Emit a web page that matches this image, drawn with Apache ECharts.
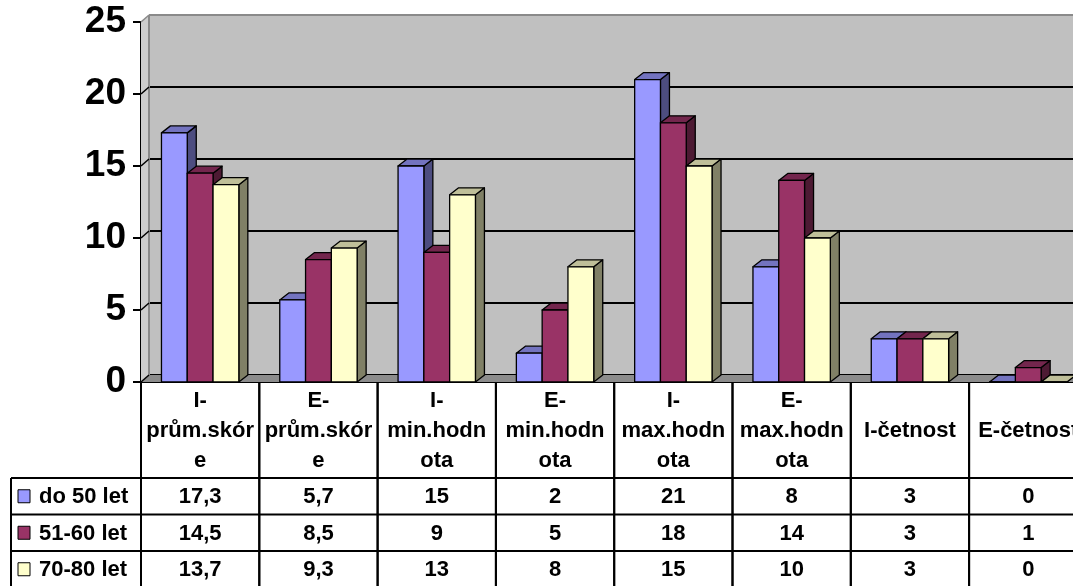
<!DOCTYPE html>
<html>
<head>
<meta charset="utf-8">
<script src="https://cdn.jsdelivr.net/npm/echarts@6/dist/echarts.min.js"></script>
<style>
  html, body { margin: 0; padding: 0; background: #ffffff; }
  #chart { width: 1073px; height: 586px; }
</style>
</head>
<body>
<div id="chart"></div>
<script>
// Category headings as they wrap in the data table
const categories = [
  'I-\nprům.skór\ne', 'E-\nprům.skór\ne', 'I-\nmin.hodn\nota', 'E-\nmin.hodn\nota',
  'I-\nmax.hodn\nota', 'E-\nmax.hodn\nota', 'I-četnost', 'E-četnost'
];
const seriesNames = ['do 50 let', '51-60 let', '70-80 let'];
const under50 = [17.3, 5.7, 15, 2, 21, 8, 3, 0];
const age51to60 = [14.5, 8.5, 9, 5, 18, 14, 3, 1];
const age70to80 = [13.7, 9.3, 13, 8, 15, 10, 3, 0];
const yTicks = [0, 5, 10, 15, 20, 25];

const seriesValues = [under50, age51to60, age70to80];

// Face colours of the 3D columns: front, top, side
const frontColors = ['#9999FF', '#993366', '#FFFFCC'];
const topColors = ['#7373BF', '#73264D', '#BFBF99'];
const sideColors = ['#4D4D80', '#4D1A33', '#808066'];

// Depth of the 3D projection
const DX = 9, DY = 7;      // column depth
const WX = 8, WY = 7;      // wall depth
const HEADER_H = 96, ROW_H = 36.5, LEGEND_W = 130;
const PLOT_W = 946.4;      // plot runs past the right edge of the canvas
const FONT = 'Arial, "Liberation Sans", sans-serif';
const TABLE_FONT = 22;

const fmt = v => String(v).replace('.', ',');

function columnRenderer(s) {
  return function (params, api) {
    const cat = api.value(0), v = api.value(1);
    const top = api.coord([cat, v]);
    const base = api.coord([cat, 0]);
    const band = api.size([1, 0])[0];
    const bw = band * 0.218;
    const x = top[0] - 1.5 * bw + s * bw;
    const y = top[1], yb = base[1];
    const edge = { stroke: '#000', lineWidth: 1.3, lineJoin: 'round' };
    return {
      type: 'group',
      children: [
        { type: 'polygon', shape: { points: [[x + bw, y], [x + bw + DX, y - DY], [x + bw + DX, yb - DY], [x + bw, yb]] },
          style: Object.assign({ fill: sideColors[s] }, edge) },
        { type: 'polygon', shape: { points: [[x, y], [x + DX, y - DY], [x + bw + DX, y - DY], [x + bw, y]] },
          style: Object.assign({ fill: topColors[s] }, edge) },
        { type: 'rect', shape: { x: x, y: y, width: bw, height: yb - y },
          style: Object.assign({ fill: frontColors[s] }, edge) }
      ]
    };
  };
}

// Side wall, floor and wall edges
function wallsRenderer(params, api) {
  const band = api.size([1, 0])[0];
  const first = api.coord([0, 0]);
  const last = api.coord([categories.length - 1, 0]);
  const L = first[0] - band / 2, R = last[0] + band / 2 + 40;
  const y0 = first[1];
  const yTop = api.coord([0, yTicks[yTicks.length - 1]])[1];
  const children = [
    { type: 'polygon', shape: { points: [[L, y0], [L + WX, y0 - WY], [L + WX, yTop - WY], [L, yTop]] },
      style: { fill: '#cdcdcd' } },
    { type: 'polygon', shape: { points: [[L, y0], [L + WX, y0 - WY], [R + WX, y0 - WY], [R, y0]] },
      style: { fill: '#8c8c8c' } },
    { type: 'line', shape: { x1: L + WX, y1: yTop - WY, x2: L + WX, y2: y0 - WY }, style: { stroke: '#8a8a8a', lineWidth: 2 } },
    { type: 'line', shape: { x1: L + WX, y1: yTop - WY, x2: R + WX, y2: yTop - WY }, style: { stroke: '#8a8a8a', lineWidth: 2 } },
    { type: 'line', shape: { x1: L, y1: yTop, x2: L + WX, y2: yTop - WY }, style: { stroke: '#8a8a8a', lineWidth: 1.5 } }
  ];
  yTicks.slice(0, -1).forEach(t => {
    const y = api.coord([0, t])[1];
    children.push({ type: 'line', shape: { x1: L, y1: y, x2: L + WX, y2: y - WY }, style: { stroke: '#000', lineWidth: 1.5 } });
  });
  return { type: 'group', children: children };
}

// Data table under the plot, one column per category
function tableRenderer(params, api) {
  const i = api.value(0);
  const c = api.coord([i, 0]);
  const band = api.size([1, 0])[0];
  const L = c[0] - band / 2, R = c[0] + band / 2, T = c[1];
  const rows = [T + HEADER_H, T + HEADER_H + ROW_H, T + HEADER_H + 2 * ROW_H];
  const bottom = T + HEADER_H + 3 * ROW_H + 4;
  const line = { stroke: '#000', lineWidth: 2 };
  const children = [
    { type: 'line', shape: { x1: L, y1: T, x2: L, y2: bottom }, style: line },
    { type: 'line', shape: { x1: R, y1: T, x2: R, y2: bottom }, style: line },
    { type: 'text', style: { text: categories[i], x: c[0], y: T + HEADER_H / 2 + 1, align: 'center', verticalAlign: 'middle',
        fontSize: TABLE_FONT, fontWeight: 'bold', fontFamily: FONT, lineHeight: 30, fill: '#000' } }
  ];
  rows.forEach((ry, r) => {
    children.push({ type: 'line', shape: { x1: L, y1: ry, x2: R, y2: ry }, style: line });
    children.push({ type: 'text', style: { text: fmt(seriesValues[r][i]), x: c[0], y: ry + ROW_H / 2 + 1,
      align: 'center', verticalAlign: 'middle', fontSize: TABLE_FONT, fontWeight: 'bold', fontFamily: FONT, fill: '#000' } });
  });
  if (i === 0) {
    const lx = L - LEGEND_W;
    children.push({ type: 'line', shape: { x1: lx, y1: rows[0], x2: lx, y2: bottom }, style: line });
    rows.forEach((ry, r) => {
      children.push({ type: 'line', shape: { x1: lx, y1: ry, x2: L, y2: ry }, style: line });
      const my = ry + ROW_H / 2;
      children.push({ type: 'rect', shape: { x: lx + 7, y: my - 6.5, width: 12, height: 13 },
        style: { fill: frontColors[r], stroke: '#000', lineWidth: 1 } });
      children.push({ type: 'text', style: { text: seriesNames[r], x: lx + 28, y: my + 1, align: 'left', verticalAlign: 'middle',
        fontSize: TABLE_FONT, fontWeight: 'bold', fontFamily: FONT, fill: '#000' } });
    });
  }
  return { type: 'group', children: children };
}

const chart = echarts.init(document.getElementById('chart'), null, { renderer: 'canvas' });

const option = {
  animation: false,
  backgroundColor: '#ffffff',
  grid: [
    { left: 141, width: PLOT_W, top: 22, bottom: 204, containLabel: false, outerBoundsMode: 'none' },
    // back wall, shifted by the wall depth
    { left: 141 + WX, width: PLOT_W + 40, top: 22 - WY, bottom: 204 + WY, show: true, backgroundColor: '#c0c0c0',
      borderWidth: 0, outerBoundsMode: 'none' }
  ],
  xAxis: [
    { type: 'category', gridIndex: 0, data: categories, boundaryGap: true,
      axisLine: { show: true, lineStyle: { color: '#000', width: 2 } },
      axisTick: { show: false }, axisLabel: { show: false }, splitLine: { show: false } },
    { type: 'value', gridIndex: 1, show: false }
  ],
  yAxis: [
    { type: 'value', gridIndex: 0, min: 0, max: 25, interval: 5,
      axisLine: { show: true, lineStyle: { color: '#000', width: 2 } },
      axisTick: { show: true, inside: false, length: 8, lineStyle: { color: '#000', width: 2 } },
      axisLabel: { margin: 15, fontSize: 37, fontWeight: 'bold', fontFamily: FONT, color: '#000' },
      splitLine: { show: false } },
    { type: 'value', gridIndex: 1, min: 0, max: 25, interval: 5,
      axisLine: { show: false }, axisTick: { show: false }, axisLabel: { show: false },
      splitLine: { show: true, lineStyle: { color: '#000', width: 2 } } }
  ],
  series: [
    { type: 'custom', name: 'walls', xAxisIndex: 0, yAxisIndex: 0, z: 1, silent: true,
      renderItem: wallsRenderer, data: [[0, 0]], encode: { x: 0, y: 1 } },
    ...seriesNames.map((name, s) => ({
      type: 'custom', name: name, xAxisIndex: 0, yAxisIndex: 0, z: 3,
      renderItem: columnRenderer(s),
      data: seriesValues[s].map((v, i) => [i, v]),
      encode: { x: 0, y: 1 }
    })),
    { type: 'custom', name: 'table', xAxisIndex: 0, yAxisIndex: 0, z: 4, silent: true,
      renderItem: tableRenderer, data: categories.map((c, i) => [i, 0]), encode: { x: 0, y: 1 } }
  ]
};

chart.setOption(option);
</script>
</body>
</html>
